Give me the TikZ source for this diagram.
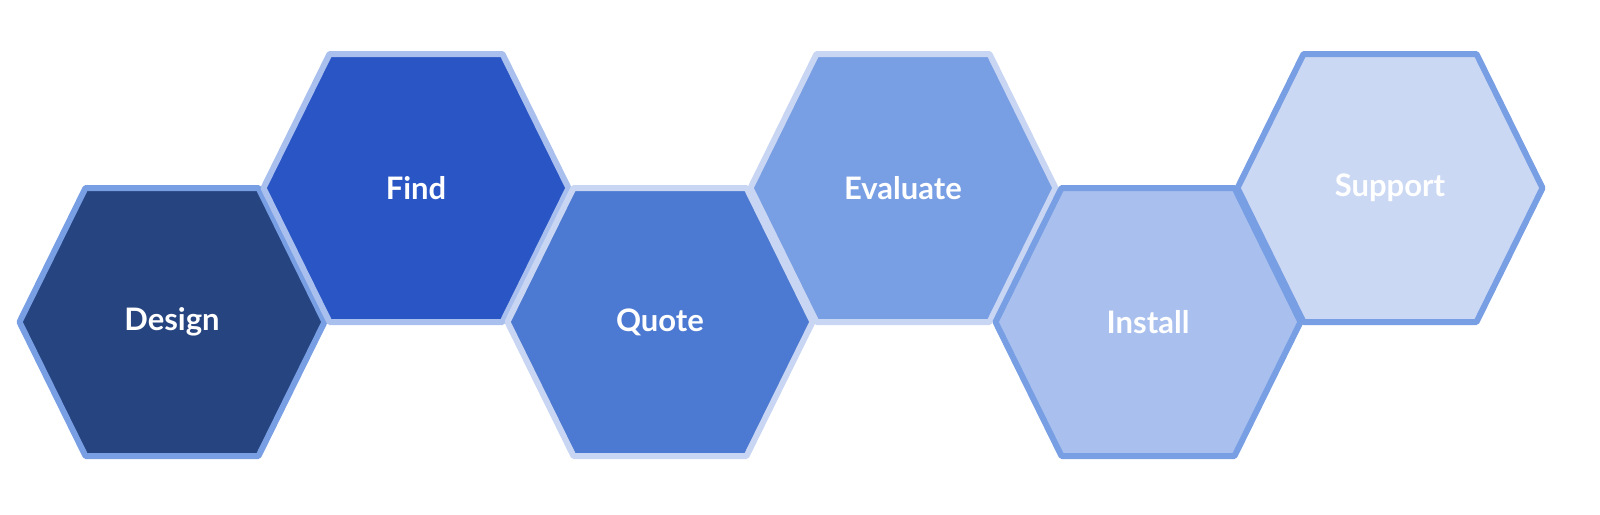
\documentclass[tikz,border=0pt]{standalone}
\usepackage{fontspec}
\setmainfont{Lato}
\begin{document}
\begin{tikzpicture}[x=0.5pt,y=-0.5pt,
  hex/.style={line width=3pt,line join=round},
  lbl/.style={text=white,inner sep=0pt,font=\fontsize{15.5}{18}\selectfont\bfseries}]
\useasboundingbox (0,0) rectangle (1600,514);
\definecolor{f1}{HTML}{26447F}\definecolor{b1}{HTML}{789EE3}
\definecolor{f2}{HTML}{2A55C5}\definecolor{b2}{HTML}{A9C0EE}
\definecolor{f3}{HTML}{4C79D1}\definecolor{b3}{HTML}{C8D6F3}
\definecolor{f4}{HTML}{789EE3}\definecolor{b4}{HTML}{C8D6F3}
\definecolor{f5}{HTML}{A9C0EE}\definecolor{b5}{HTML}{789EE3}
\definecolor{f6}{HTML}{CBD8F4}\definecolor{b6}{HTML}{789EE3}
\foreach \cx/\cy/\f/\b/\t/\n in {172/322/f1/b1/Design/a,416/188/f2/b2/Find/b,660/322/f3/b3/Quote/c,903/188/f4/b4/Evaluate/d,1148/322/f5/b5/Install/e,1390/188/f6/b6/Support/f}{
  \draw[hex,fill=\f,draw=\b] (\cx-152.5,\cy) -- (\cx-86.5,\cy-134) -- (\cx+86.5,\cy-134) -- (\cx+152.5,\cy) -- (\cx+86.5,\cy+134) -- (\cx-86.5,\cy+134) -- cycle;
  \node[lbl] (\n) at (\cx,\cy) {\t};
}
\end{tikzpicture}
\end{document}
